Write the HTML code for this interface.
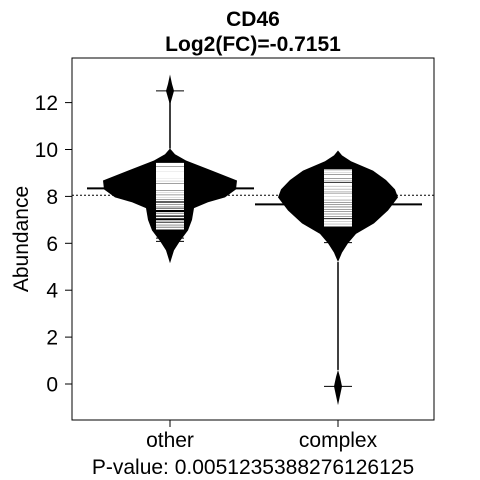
<!DOCTYPE html>
<html><head><meta charset="utf-8"><style>
body{margin:0;background:#fff;}
svg{display:block;font-family:"Liberation Sans",sans-serif;}
</style></head><body>
<svg id="chart" width="480" height="480">
<text x="253" y="26" text-anchor="middle" font-size="21" font-weight="bold">CD46</text>
<text x="253" y="51" text-anchor="middle" font-size="21" font-weight="bold">Log2(FC)=-0.7151</text>
<g id="plot"></g>
<rect x="72" y="58" width="362" height="362" fill="none" stroke="#000" stroke-width="1"/>
<text transform="translate(28,239) rotate(-90)" text-anchor="middle" font-size="21">Abundance</text>
<text x="253" y="474" text-anchor="middle" font-size="21">P-value: 0.0051235388276126125</text>
</svg>
<script>
const categories=["other","complex"];
const medians=[8.34,7.66];
const overallMean=8.05;
const yTicks=[0,2,4,6,8,10,12];
// density half-width profiles: [value, halfwidth]
const beanOther=[[5.15,0],[5.7,4],[6.1,10],[6.55,18],[7.0,22],[7.5,24],[7.75,38],[7.96,55],[8.3,66],[8.68,67],[9.1,42],[9.53,16],[9.8,5],[10.04,0]];
const beanComplex=[[5.2,0],[5.6,4],[6.0,10],[6.4,18],[6.85,36],[7.4,50],[7.96,60],[8.3,57],[8.7,48],[9.1,35],[9.5,13],[9.75,4],[9.96,0]];
const outBeanOther=[[11.9,0],[12.2,2],[12.5,4],[12.8,2],[13.2,0]];
const outBeanComplex=[[-0.9,0],[-0.5,2],[-0.1,4],[0.3,2],[0.6,0]];
const dataOther=[9.4,9.35,9.3,9.22,9.18,9.12,9.08,9.02,8.97,8.93,8.88,8.82,8.78,8.72,8.66,8.6,8.52,8.47,8.41,8.35,8.3,8.22,8.15,8.1,8.02,7.97,7.9,7.82,7.7,7.62,7.55,7.45,7.3,7.22,7.1,6.95,6.85,6.78,6.7,6.62];
const dataComplex=[9.12,9.05,8.98,8.9,8.85,8.8,8.72,8.65,8.55,8.5,8.45,8.38,8.32,8.25,8.18,8.1,8.05,7.98,7.92,7.85,7.78,7.7,7.62,7.55,7.48,7.4,7.32,7.25,7.18,7.1,7.0,6.95,6.88,6.82,6.75];
const outliersOther=[12.5,6.22,6.08];
const outliersComplex=[6.03,-0.1];
const tailsOther=[[10.04,12.5]];
const tailsComplex=[[0.6,5.2]];

const NS="http://www.w3.org/2000/svg";
const g=document.getElementById('plot');
const y=v=>384-23.45*v;
const xc=i=>170+168*i;
function mk(tag,attrs){const e=document.createElementNS(NS,tag);for(const k in attrs)e.setAttribute(k,attrs[k]);g.appendChild(e);return e;}
yTicks.forEach(t=>{
  const l=mk('line',{x1:65,x2:72,y1:y(t),y2:y(t),stroke:'#000'});
  
  
  const tx=mk('text',{x:58,y:y(t)+7.5,'text-anchor':'end','font-size':21});
  tx.textContent=t;
  
  
});
categories.forEach((c,i)=>{
  const tk=mk('line',{x1:xc(i),x2:xc(i),y1:420,y2:427,stroke:'#000'});
  
  
  const tx=mk('text',{x:xc(i),y:447,'text-anchor':'middle','font-size':21});
  tx.textContent=c;
  
  
});
const ol=mk('line',{x1:72,x2:434,y1:y(overallMean),y2:y(overallMean),stroke:'#000','stroke-dasharray':'2,2'});


function bean(prof,i,name){
  const cx=xc(i);
  const pts=prof.map(p=>[cx-p[1],y(p[0])]).concat(prof.slice().reverse().map(p=>[cx+p[1],y(p[0])]));
  const p=mk('polygon',{points:pts.map(q=>q.join(',')).join(' '),fill:'#000'});
  
  
}
const sets=[[beanOther,outBeanOther,dataOther,outliersOther,tailsOther],[beanComplex,outBeanComplex,dataComplex,outliersComplex,tailsComplex]];
sets.forEach((s,i)=>{
  const c=categories[i];
  const m=mk('line',{x1:xc(i)-83,x2:xc(i)+84,y1:y(medians[i]),y2:y(medians[i]),stroke:'#000','stroke-width':2});
  
  
  s[4].forEach(t=>{const l=mk('line',{x1:xc(i),x2:xc(i),y1:y(t[0]),y2:y(t[1]),stroke:'#000','stroke-width':1.5});
    
    });
  bean(s[0],i,'bean-'+c);
  bean(s[1],i,'outlier-bean-'+c);
  s[2].forEach(v=>{const l=mk('line',{x1:xc(i)-14,x2:xc(i)+14,y1:y(v),y2:y(v),stroke:'#fff','stroke-width':1.5});
    
    });
  s[3].forEach(v=>{const l=mk('line',{x1:xc(i)-14,x2:xc(i)+14,y1:y(v),y2:y(v),stroke:'#000','stroke-width':1});
    
    });
});
</script>
</body></html>
